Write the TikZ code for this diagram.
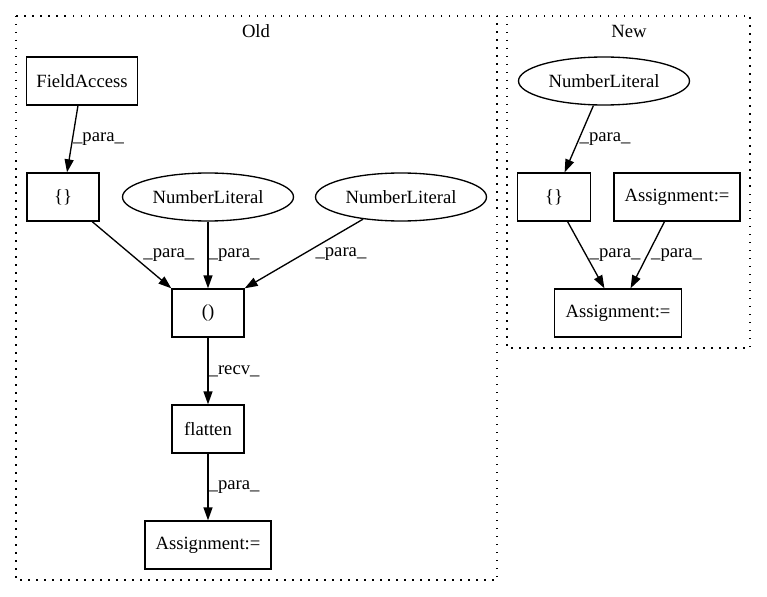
\documentclass[tikz,border=0pt]{standalone}
\usepackage{fontspec}
\setmainfont{Liberation Serif}
\usepackage{tikz}
\usetikzlibrary{arrows.meta, shapes.geometric}
\tikzset{
  box/.style={rectangle, draw, line width=1.33pt, minimum height=48pt, inner sep=0pt},
  oval/.style={ellipse, draw, line width=1.33pt, minimum width=171pt, minimum height=48pt, inner sep=0pt},
  lbl/.style={anchor=west, inner sep=0pt},
  cluster/.style={line width=1.33pt, dash pattern=on 1.5pt off 6.5pt},
}

\begin{document}
\begin{tikzpicture}[x=1pt, y=-1pt, font=\fontsize{18.67}{22}\selectfont]
\useasboundingbox (0,0) rectangle (767,596);
% clusters
\draw[cluster] (16,16) rectangle (497,580);
\draw[cluster] (507,16) rectangle (750,348);
\node (old) at (256,31) {Old};
\node (new) at (629,31) {New};
% old
\begin{scope}[every node/.style={box}]
  \node[minimum width=111pt] (fa) at (82,81) {FieldAccess};
  \node[minimum width=72pt] (brace) at (63,197) {\{\}};
  \node[minimum width=72pt] (call) at (208,313) {()};
  \node[minimum width=72pt] (flat) at (208,429) {flatten};
  \node[minimum width=126pt] (asg) at (208,545) {Assignment:=};
\end{scope}
\node[oval] (nla) at (208,197) {NumberLiteral};
\node[oval] (nlb) at (401,197) {NumberLiteral};
% new
\node[oval] (nnl) at (604,81) {NumberLiteral};
\begin{scope}[every node/.style={box}]
  \node[minimum width=73pt] (nbrace) at (554,197) {\{\}};
  \node[minimum width=126pt] (nasga) at (677,197) {Assignment:=};
  \node[minimum width=127pt] (nasgb) at (618,313) {Assignment:=};
\end{scope}
% edges
\begin{scope}[every edge/.style={draw, line width=1.33pt, -{Triangle[length=13pt, width=9pt]}}]
\path (fa) edge node[lbl] {\_para\_} (brace);
\path (brace) edge node[lbl, xshift=11pt] {\_para\_} (call.north west);
\path (nla) edge node[lbl] {\_para\_} (call);
\path (nlb) edge node[lbl, xshift=11pt] {\_para\_} (call.north east);
\path (call) edge node[lbl] {\_recv\_} (flat);
\path (flat) edge node[lbl] {\_para\_} (asg);
\path (nnl) edge node[lbl] {\_para\_} (nbrace);
\path (nbrace) edge node[lbl, xshift=3pt] {\_para\_} (nasgb);
\path (nasga) edge node[lbl, xshift=3pt] {\_para\_} (nasgb);
\end{scope}
\end{tikzpicture}
\end{document}
